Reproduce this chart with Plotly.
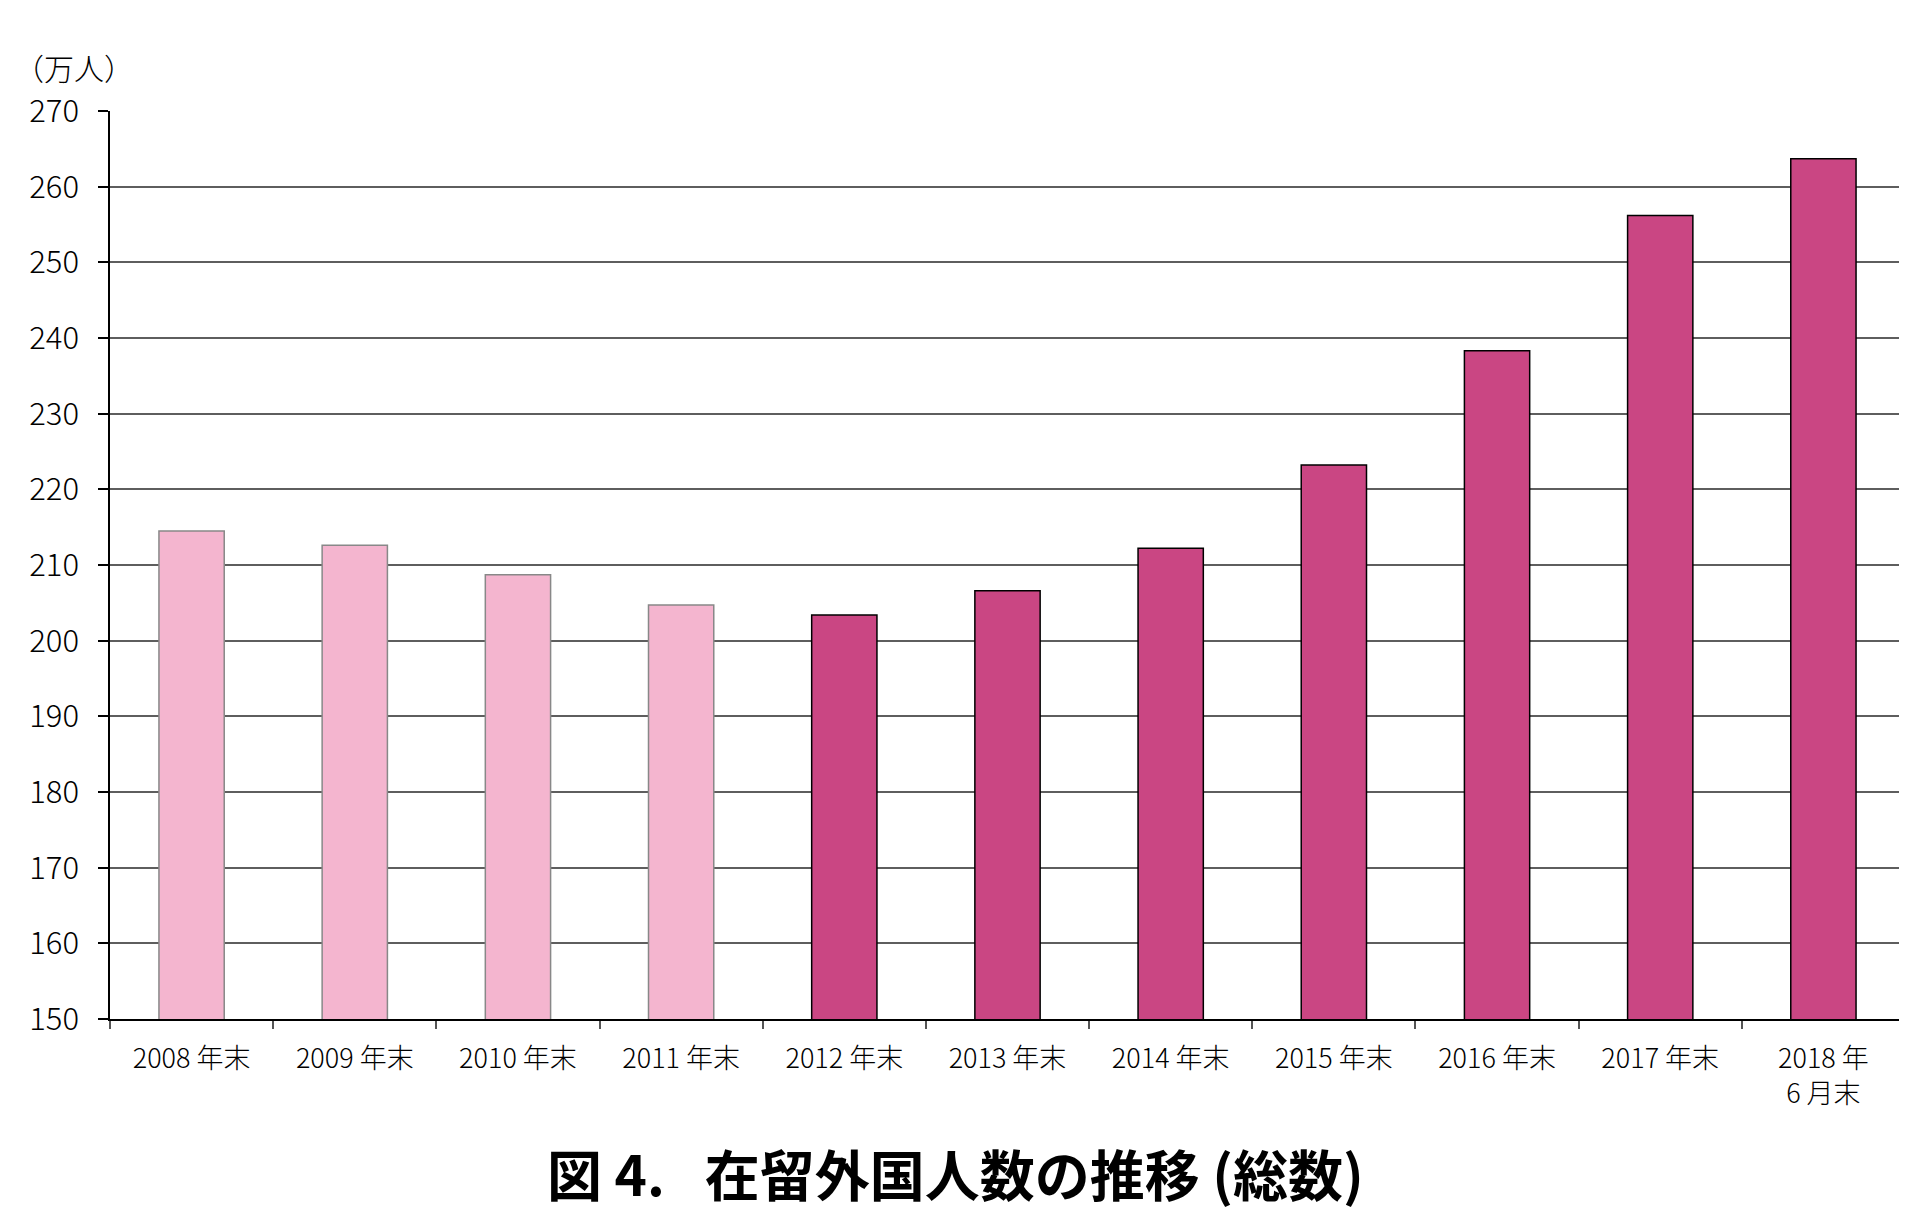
import plotly.graph_objects as go

categories = ["2008 年末", "2009 年末", "2010 年末", "2011 年末", "2012 年末", "2013 年末",
              "2014 年末", "2015 年末", "2016 年末", "2017 年末", "2018 年<br>6 月末"]
values = [214.5, 212.6, 208.7, 204.7, 203.4, 206.6, 212.2, 223.2, 238.3, 256.2, 263.7]
is_new_system = [False, False, False, False, True, True, True, True, True, True, True]
y_ticks = [150, 160, 170, 180, 190, 200, 210, 220, 230, 240, 250, 260, 270]

LIGHT = "#F4B5CF"
DARK = "#CA4683"
fill = [DARK if n else LIGHT for n in is_new_system]
edge = ["#000000" if n else "#888888" for n in is_new_system]

FONT = "Noto Sans CJK JP"

fig = go.Figure(go.Bar(
    x=categories, y=values,
    marker=dict(color=fill, line=dict(color=edge, width=1.5)),
    width=0.4,
))

fig.update_layout(
    width=1897, height=1210,
    margin=dict(l=102, r=0, t=103, b=199),
    paper_bgcolor="white", plot_bgcolor="white",
    showlegend=False,
    font=dict(family=FONT, color="#000000"),
    annotations=[
        dict(text="（万人）", xref="paper", yref="paper", x=0.0144, y=1.048,
             xanchor="right", yanchor="middle", showarrow=False,
             font=dict(size=30, family=FONT, weight=300)),
        dict(text="<b>図 4. \u2002在留外国人数の推移 (総数)</b>", xref="paper", yref="paper",
             x=0.471, y=-0.168, xanchor="center", yanchor="middle", showarrow=False,
             font=dict(size=55, family=FONT)),
    ],
)

fig.update_yaxes(
    range=[150, 270], tickvals=y_ticks, ticktext=[str(v) for v in y_ticks],
    showgrid=True, gridcolor="#5e5e5e", gridwidth=1.5,
    showline=True, linecolor="#000000", linewidth=1.5,
    ticks="outside", ticklen=10, tickcolor="#000000", tickwidth=1.5,
    tickfont=dict(size=31, family=FONT, weight=300), ticklabelstandoff=13,
    zeroline=False,
)
fig.update_xaxes(
    showgrid=False,
    showline=True, linecolor="#000000", linewidth=1.5,
    ticks="outside", ticklen=8, tickcolor="#555555", tickwidth=1.5,
    tickson="boundaries",
    tickfont=dict(size=27, family=FONT, weight=300), ticklabelstandoff=15,
    range=[-0.5, 10.5],
)

fig.write_html("out.html")
